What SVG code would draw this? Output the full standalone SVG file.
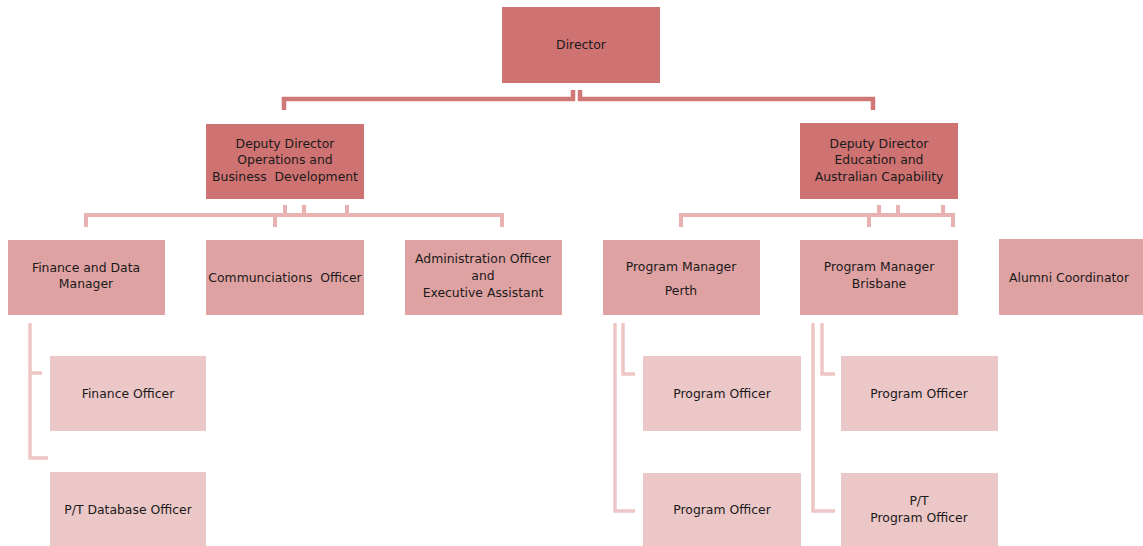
<svg xmlns="http://www.w3.org/2000/svg" width="1143" height="546" viewBox="0 0 1143 546">
<style>
text{font-family:"DejaVu Sans","Liberation Sans",sans-serif;font-size:12.4px;fill:#1a1a1a;text-anchor:middle;dominant-baseline:central}
.l0{fill:#cf7272}
.l1{fill:#dfa2a2}
.l2{fill:#ecc7c7}
.c0{fill:none;stroke:#d07878;stroke-width:4.5}
.c1{fill:none;stroke:#e9b2b2;stroke-width:4}
.c2{fill:none;stroke:#eec6c6;stroke-width:3.5}
</style>
<rect width="1143" height="546" fill="#ffffff"/>
<g id="connectors">
<path class="c0" d="M573,90 V99 H284 V110"/>
<path class="c0" d="M580,90 V99 H873 V110"/>
<path class="c1" d="M285,205 V215 M304,205 V215 M347,205 V215"/>
<path class="c1" d="M86,227 V215 H502 V227 M275,215 V227"/>
<path class="c1" d="M879,205 V215 M898,205 V215 M943,205 V215"/>
<path class="c1" d="M681,227 V215 H953 V227 M869,215 V227"/>
<path class="c2" d="M30,323 V458 H48 M30,373 H42"/>
<path class="c2" d="M615,323 V511 H635 M623,323 V374 H635"/>
<path class="c2" d="M813,323 V511 H835 M822,323 V374 H835"/>
</g>
<g id="director"><rect class="l0" x="502" y="7" width="158" height="76"/><text x="581" y="44">Director</text></g>
<g id="dd-ops"><rect class="l0" x="206" y="124" width="158" height="75"/>
<text x="285" y="143">Deputy Director</text><text x="285" y="159">Operations and</text><text x="285" y="176" xml:space="preserve">Business  Development</text></g>
<g id="dd-edu"><rect class="l0" x="800" y="123" width="158" height="76"/>
<text x="879" y="143">Deputy Director</text><text x="879" y="159">Education and</text><text x="879" y="176">Australian Capability</text></g>
<g id="finance-mgr"><rect class="l1" x="8" y="240" width="157" height="75"/>
<text x="86" y="267">Finance and Data</text><text x="86" y="283">Manager</text></g>
<g id="comms"><rect class="l1" x="206" y="240" width="158" height="75"/>
<text x="285" y="277" xml:space="preserve">Communciations  Officer</text></g>
<g id="admin"><rect class="l1" x="405" y="240" width="157" height="75"/>
<text x="483" y="258">Administration Officer</text><text x="483" y="275">and</text><text x="483" y="292">Executive Assistant</text></g>
<g id="pm-perth"><rect class="l1" x="603" y="240" width="157" height="75"/>
<text x="681" y="266">Program Manager</text><text x="681" y="290">Perth</text></g>
<g id="pm-brisbane"><rect class="l1" x="800" y="240" width="158" height="75"/>
<text x="879" y="266">Program Manager</text><text x="879" y="283">Brisbane</text></g>
<g id="alumni"><rect class="l1" x="999" y="239" width="150" height="76"/>
<text x="1069" y="277">Alumni Coordinator</text></g>
<g id="finance-officer"><rect class="l2" x="50" y="356" width="156" height="75"/>
<text x="128" y="393">Finance Officer</text></g>
<g id="db-officer"><rect class="l2" x="50" y="472" width="156" height="76"/>
<text x="128" y="509">P/T Database Officer</text></g>
<g id="perth-po1"><rect class="l2" x="643" y="356" width="158" height="75"/>
<text x="722" y="393">Program Officer</text></g>
<g id="perth-po2"><rect class="l2" x="643" y="473" width="158" height="75"/>
<text x="722" y="509">Program Officer</text></g>
<g id="bris-po1"><rect class="l2" x="841" y="356" width="157" height="75"/>
<text x="919" y="393">Program Officer</text></g>
<g id="bris-po2"><rect class="l2" x="841" y="473" width="157" height="75"/>
<text x="919" y="500">P/T</text><text x="919" y="517">Program Officer</text></g>
</svg>
